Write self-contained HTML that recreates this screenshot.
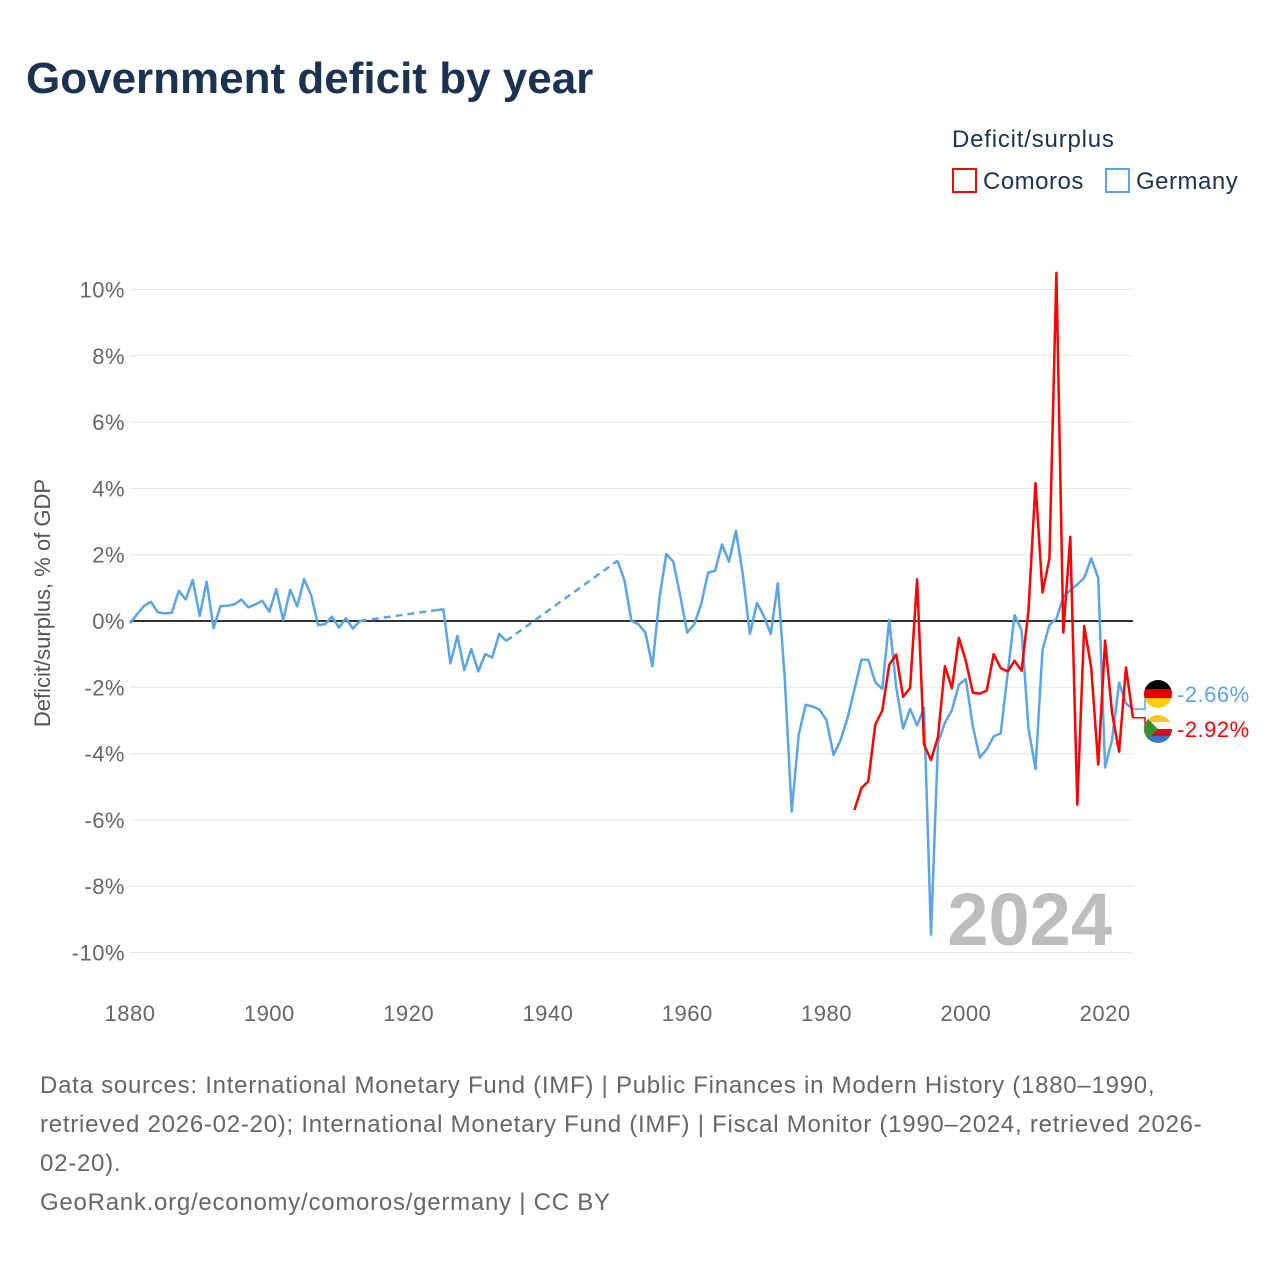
<!DOCTYPE html>
<html><head><meta charset="utf-8"><style>
body{margin:0;background:#fff;font-family:"Liberation Sans",sans-serif;}
svg text{font-family:"Liberation Sans",sans-serif;}
</style></head><body>
<svg id="chart" width="1280" height="1280" xmlns="http://www.w3.org/2000/svg">
<text x="26" y="93" font-size="44" font-weight="bold" fill="#1b3250">Government deficit by year</text>
<text x="952" y="147" font-size="24" fill="#1b3250" letter-spacing="0.8">Deficit/surplus</text>
<rect x="953" y="169" width="23" height="23" fill="#fff" stroke="#f00" stroke-width="2"/>
<text x="983" y="189" font-size="24" fill="#1b3250" letter-spacing="0.5">Comoros</text>
<rect x="1106" y="169" width="23" height="23" fill="#fff" stroke="#5ba4e8" stroke-width="2"/>
<text x="1136" y="189" font-size="24" fill="#1b3250" letter-spacing="0.5">Germany</text>
<g id="grid"></g>
<g id="series"></g>
<text transform="translate(50,603) rotate(-90)" text-anchor="middle" font-size="22" fill="#555">Deficit/surplus, % of GDP</text>
<text x="1112" y="945" text-anchor="end" font-size="74" font-weight="bold" fill="#bdbdbd">2024</text>
<g font-size="24" fill="#666" letter-spacing="0.75">
<text x="40" y="1093">Data sources: International Monetary Fund (IMF) | Public Finances in Modern History (1880–1990,</text>
<text x="40" y="1132">retrieved 2026-02-20); International Monetary Fund (IMF) | Fiscal Monitor (1990–2024, retrieved 2026-</text>
<text x="40" y="1171">02-20).</text>
<text x="40" y="1210">GeoRank.org/economy/comoros/germany | CC BY</text>
</g>
</svg>
<script>
const yTicks=[10,8,6,4,2,0,-2,-4,-6,-8,-10];
const xTicks=[1880,1900,1920,1940,1960,1980,2000,2020];
const germanyYears1=[1880,1881,1882,1883,1884,1885,1886,1887,1888,1889,1890,1891,1892,1893,1894,1895,1896,1897,1898,1899,1900,1901,1902,1903,1904,1905,1906,1907,1908,1909,1910,1911,1912,1913];
const germanyVals1=[-0.07,0.2,0.45,0.58,0.26,0.23,0.25,0.91,0.65,1.24,0.15,1.19,-0.22,0.45,0.46,0.5,0.65,0.41,0.5,0.61,0.28,0.96,0.03,0.94,0.44,1.26,0.78,-0.12,-0.1,0.13,-0.2,0.08,-0.23,0.0];
const germanyYears2=[1924,1925,1926,1927,1928,1929,1930,1931,1932,1933,1934];
const germanyVals2=[0.33,0.35,-1.28,-0.45,-1.48,-0.85,-1.52,-1.0,-1.1,-0.39,-0.6];
const germanyYears3=[1950,1951,1952,1953,1954,1955,1956,1957,1958,1959,1960,1961,1962,1963,1964,1965,1966,1967,1968,1969,1970,1971,1972,1973,1974,1975,1976,1977,1978,1979,1980,1981,1982,1983,1984,1985,1986,1987,1988,1989,1990,1991,1992,1993,1994,1995,1996,1997,1998,1999,2000,2001,2002,2003,2004,2005,2006,2007,2008,2009,2010,2011,2012,2013,2014,2015,2016,2017,2018,2019,2020,2021,2022,2023,2024];
const germanyVals3=[1.82,1.22,0,-0.1,-0.35,-1.36,0.68,2.02,1.79,0.75,-0.35,-0.1,0.51,1.46,1.51,2.31,1.79,2.72,1.39,-0.39,0.55,0.15,-0.39,1.14,-1.7,-5.75,-3.44,-2.53,-2.58,-2.68,-2.99,-4.04,-3.6,-2.94,-2.07,-1.17,-1.17,-1.85,-2.05,0.04,-1.99,-3.24,-2.65,-3.15,-2.62,-9.46,-3.67,-3.07,-2.69,-1.92,-1.75,-3.17,-4.12,-3.87,-3.48,-3.39,-1.6,0.18,-0.28,-3.24,-4.47,-0.87,-0.12,0.07,0.73,0.93,1.1,1.3,1.89,1.3,-4.42,-3.57,-1.86,-2.49,-2.66];
const comorosYears=[1984,1985,1986,1987,1988,1989,1990,1991,1992,1993,1994,1995,1996,1997,1998,1999,2000,2001,2002,2003,2004,2005,2006,2007,2008,2009,2010,2011,2012,2013,2014,2015,2016,2017,2018,2019,2020,2021,2022,2023,2024];
const comorosVals=[-5.7,-5.04,-4.84,-3.12,-2.7,-1.32,-1.01,-2.29,-2.02,1.26,-3.73,-4.19,-3.49,-1.36,-2.03,-0.51,-1.2,-2.16,-2.19,-2.1,-1.0,-1.42,-1.52,-1.2,-1.5,0.33,4.16,0.86,1.88,10.5,-0.35,2.54,-5.54,-0.15,-1.4,-4.33,-0.59,-2.78,-3.94,-1.4,-2.92];
const X0=130,X1=1133,Y0=621,PX=33.15;
const xs=y=>X0+(y-1880)*(X1-X0)/144;
const ys=v=>Y0-v*PX;
const NS='http://www.w3.org/2000/svg';
const grid=document.getElementById('grid'),ser=document.getElementById('series');
function mk(tag,attrs,parent){const e=document.createElementNS(NS,tag);for(const k in attrs)e.setAttribute(k,attrs[k]);parent.appendChild(e);return e;}
yTicks.forEach(t=>{
 const l=mk('line',{x1:X0,x2:X1,y1:ys(t),y2:ys(t),stroke:t===0?'#333':'#e6e6e6','stroke-width':t===0?2:1},grid);
 
 
 const tx=mk('text',{x:125,y:ys(t)+8,'text-anchor':'end','font-size':22,fill:'#666','letter-spacing':0.5},grid);
 tx.textContent=t+'%';
 
 
});
xTicks.forEach(t=>{
 const tx=mk('text',{x:xs(t),y:1021,'text-anchor':'middle','font-size':22,fill:'#666','letter-spacing':0.5},grid);
 tx.textContent=t;
 
 
});
function path(years,vals){return years.map((y,i)=>(i?'L':'M')+xs(y).toFixed(1)+','+ys(vals[i]).toFixed(1)).join('');}
const blue='#5ba4e8',red='#f00';
function line(d,c,name,dash){const p=mk('path',{d:d,fill:'none',stroke:c,'stroke-width':2.5,'stroke-linejoin':'round'},ser);if(dash)p.setAttribute('stroke-dasharray','7,5');
 
 }
line(path([1913,1924],[germanyVals1[germanyVals1.length-1],germanyVals2[0]]),blue,'germany-gap-line',true);
line(path([1934,1950],[germanyVals2[germanyVals2.length-1],germanyVals3[0]]),blue,'germany-gap-line',true);
line(path(germanyYears1,germanyVals1),blue,'germany-line');
line(path(germanyYears2,germanyVals2),blue,'germany-line');
line(path(germanyYears3,germanyVals3),blue,'germany-line');
line(path(comorosYears,comorosVals),red,'comoros-line');
const gEnd=germanyVals3[germanyVals3.length-1],cEnd=comorosVals[comorosVals.length-1];
const gl=mk('path',{d:`M${X1},${ys(gEnd)}L1145,${ys(gEnd)}L1145,694L1150,694`,fill:'none',stroke:blue,'stroke-width':1.5},ser);


const cl=mk('path',{d:`M${X1},${ys(cEnd)}L1145,${ys(cEnd)}L1145,729L1150,729`,fill:'none',stroke:red,'stroke-width':1.5},ser);


const gf=mk('g',{},ser);


const gp=mk('clipPath',{id:'cg'},gf);mk('circle',{cx:1158,cy:694,r:14},gp);
mk('rect',{x:1144,y:680,width:28,height:10,fill:'#000','clip-path':'url(#cg)'},gf);
mk('rect',{x:1144,y:689,width:28,height:10,fill:'#dd0000','clip-path':'url(#cg)'},gf);
mk('rect',{x:1144,y:698,width:28,height:10,fill:'#ffce00','clip-path':'url(#cg)'},gf);
const cf=mk('g',{},ser);


const cp=mk('clipPath',{id:'cc'},cf);mk('circle',{cx:1158,cy:729,r:14},cp);
mk('rect',{x:1144,y:715,width:28,height:7,fill:'#ffc61e','clip-path':'url(#cc)'},cf);
mk('rect',{x:1144,y:722,width:28,height:7,fill:'#fff','clip-path':'url(#cc)'},cf);
mk('rect',{x:1144,y:729,width:28,height:7,fill:'#ce1126','clip-path':'url(#cc)'},cf);
mk('rect',{x:1144,y:736,width:28,height:7,fill:'#3a75c4','clip-path':'url(#cc)'},cf);
mk('path',{d:'M1144,715L1158,729L1144,743Z',fill:'#3d8e33','clip-path':'url(#cc)'},cf);
const tg=mk('text',{x:1177,y:702,'font-size':22,fill:blue,'letter-spacing':0.5},ser);tg.textContent=gEnd.toFixed(2)+'%';


const tc=mk('text',{x:1177,y:737,'font-size':22,fill:red,'letter-spacing':0.5},ser);tc.textContent=cEnd.toFixed(2)+'%';


</script>
</body></html>
